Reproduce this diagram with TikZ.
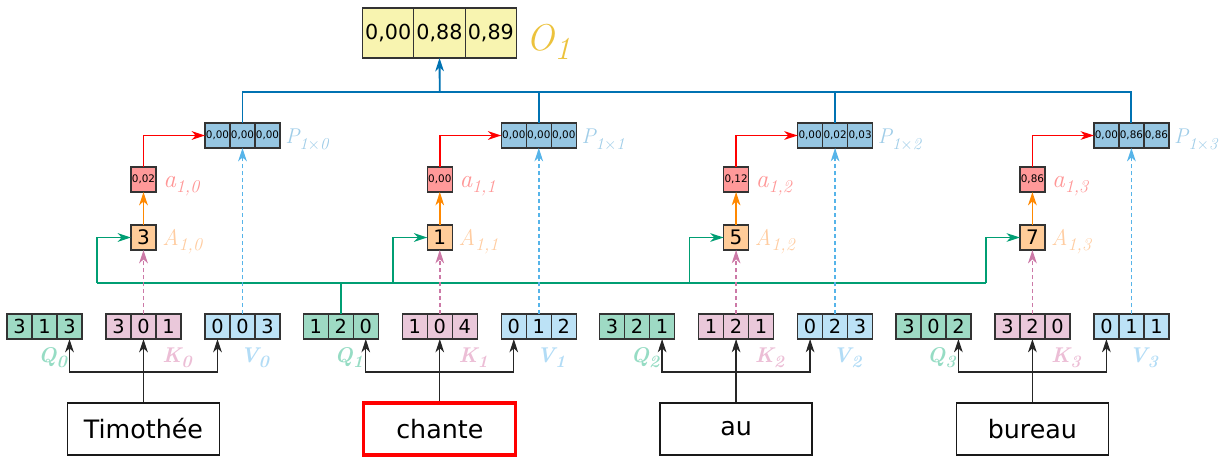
\documentclass[tikz,border=0pt]{standalone}
\usepackage{fontspec}
\setsansfont{DejaVu Sans}
\usetikzlibrary{arrows.meta}
\definecolor{qfill}{RGB}{158,218,196}
\definecolor{kfill}{RGB}{234,200,218}
\definecolor{vfill}{RGB}{188,226,246}
\definecolor{Afill}{RGB}{255,204,153}
\definecolor{afill}{RGB}{255,153,153}
\definecolor{pfill}{RGB}{150,198,226}
\definecolor{ofill}{RGB}{248,244,176}
\definecolor{qlab}{RGB}{150,220,196}
\definecolor{klab}{RGB}{236,190,214}
\definecolor{vlab}{RGB}{178,220,246}
\definecolor{Alab}{RGB}{255,204,160}
\definecolor{alab}{RGB}{255,150,150}
\definecolor{plab}{RGB}{160,205,232}
\definecolor{olab}{RGB}{236,194,60}
\definecolor{oigreen}{RGB}{0,158,115}
\definecolor{oiorange}{RGB}{255,136,0}
\definecolor{oipink}{RGB}{204,121,167}
\definecolor{oisky}{RGB}{86,180,233}
\definecolor{oiblue}{RGB}{0,114,178}
\newcommand\cellrow[6]{%
  \node[#1] (#2) at (#3) {#5};
  \node[#1, anchor=east] (#2-l) at (#2.west) {#4};
  \node[#1, anchor=west] (#2-r) at (#2.east) {#6};}
\newcommand\lab[5]{{\fontsize{#1}{#1}\selectfont #4}\raisebox{-#3}{\fontsize{#2}{#2}\selectfont #5}}
\begin{document}
\begin{tikzpicture}[x=0.75pt,y=-0.75pt,
  >={Stealth[length=10pt,width=6.5pt,inset=3pt]},
  cell/.style={draw=black!80, line width=0.9pt, inner sep=0pt, outer sep=0pt,
    minimum width=18.75pt, minimum height=18.75pt, text=black,
    font=\sffamily\fontsize{14.5}{14.5}\selectfont},
  qcell/.style={cell, fill=qfill},
  kcell/.style={cell, fill=kfill},
  vcell/.style={cell, fill=vfill},
  Acell/.style={cell, fill=Afill, font=\sffamily\fontsize{15}{15}\selectfont},
  acell/.style={cell, fill=afill, font=\sffamily\fontsize{7.8}{7.8}\selectfont},
  pcell/.style={cell, fill=pfill, font=\sffamily\fontsize{7.8}{7.8}\selectfont},
  ocell/.style={cell, fill=ofill, minimum width=38.5pt, minimum height=37.5pt,
    font=\sffamily\fontsize{15.5}{15.5}\selectfont},
  word/.style={draw=black!90, line width=1.1pt, inner sep=0pt, minimum width=114pt,
    minimum height=39pt, font=\sffamily\fontsize{19}{19}\selectfont},
  lbl/.style={inner sep=0pt, anchor=base west, font=\itshape},
  blk/.style={draw=black!85, line width=1pt},
  grn/.style={draw=oigreen, line width=1.3pt},
  orn/.style={draw=oiorange, line width=1.3pt},
  rd/.style={draw=red, line width=1.3pt},
  pkd/.style={draw=oipink, line width=1.3pt, dash pattern=on 3pt off 2.2pt},
  skd/.style={draw=oisky, line width=1.3pt, dash pattern=on 3pt off 2.2pt},
  blu/.style={draw=oiblue, line width=1.4pt}]
\useasboundingbox (0,0) rectangle (1222,457);

% output
\cellrow{ocell}{O}{439.5,33}{0,00}{0,88}{0,89}
\node[lbl, text=olab] (Olab) at (526,50) {\lab{28}{24}{7pt}{O}{1}};

% group 0
\cellrow{qcell}{Q0}{44.5,326.5}{3}{1}{3}
\cellrow{kcell}{K0}{143.5,326.5}{3}{0}{1}
\cellrow{vcell}{V0}{242.5,326.5}{0}{0}{3}
\node[Acell] (A0) at (143.5,237.5) {3};
\node[acell] (a0) at (143.5,179.5) {0,02};
\cellrow{pcell}{P0}{242.5,135.5}{0,00}{0,00}{0,00}
\node[word] (W0) at (143.5,429) {Timothée};
\node[lbl, text=qlab] (Ql0) at (38,362) {\lab{16}{13}{3.8pt}{\bfseries Q}{\bfseries 0}};
\node[lbl, text=klab] (Kl0) at (162,362) {\lab{16}{13}{3.8pt}{\bfseries K}{\bfseries 0}};
\node[lbl, text=vlab] (Vl0) at (240,362) {\lab{16}{13}{3.8pt}{\bfseries V}{\bfseries 0}};
\node[lbl, text=Alab] (Al0) at (162,245) {\lab{17}{13.5}{3.8pt}{A}{1,0}};
\node[lbl, text=alab] (al0) at (163,187) {\lab{19}{13.5}{3.8pt}{a}{1,0}};
\node[lbl, text=plab] (Pl0) at (285,143) {\lab{16}{12.5}{4.5pt}{P}{1$\times$0}};

% group 1
\cellrow{qcell}{Q1}{340.8,326.5}{1}{2}{0}
\cellrow{kcell}{K1}{439.8,326.5}{1}{0}{4}
\cellrow{vcell}{V1}{538.8,326.5}{0}{1}{2}
\node[Acell] (A1) at (439.8,237.5) {1};
\node[acell] (a1) at (439.8,179.5) {0,00};
\cellrow{pcell}{P1}{538.8,135.5}{0,00}{0,00}{0,00}
\node[word, draw=red, line width=2.3pt] (W1) at (439.8,429) {chante};
\node[lbl, text=qlab] (Ql1) at (334.3,362) {\lab{16}{13}{3.8pt}{\bfseries Q}{\bfseries 1}};
\node[lbl, text=klab] (Kl1) at (458.3,362) {\lab{16}{13}{3.8pt}{\bfseries K}{\bfseries 1}};
\node[lbl, text=vlab] (Vl1) at (536.3,362) {\lab{16}{13}{3.8pt}{\bfseries V}{\bfseries 1}};
\node[lbl, text=Alab] (Al1) at (458.3,245) {\lab{17}{13.5}{3.8pt}{A}{1,1}};
\node[lbl, text=alab] (al1) at (459.3,187) {\lab{19}{13.5}{3.8pt}{a}{1,1}};
\node[lbl, text=plab] (Pl1) at (581.3,143) {\lab{16}{12.5}{4.5pt}{P}{1$\times$1}};

% group 2
\cellrow{qcell}{Q2}{637.1,326.5}{3}{2}{1}
\cellrow{kcell}{K2}{736.1,326.5}{1}{2}{1}
\cellrow{vcell}{V2}{835.1,326.5}{0}{2}{3}
\node[Acell] (A2) at (736.1,237.5) {5};
\node[acell] (a2) at (736.1,179.5) {0,12};
\cellrow{pcell}{P2}{835.1,135.5}{0,00}{0,02}{0,03}
\node[word] (W2) at (736.1,429) {au};
\node[lbl, text=qlab] (Ql2) at (630.6,362) {\lab{16}{13}{3.8pt}{\bfseries Q}{\bfseries 2}};
\node[lbl, text=klab] (Kl2) at (754.6,362) {\lab{16}{13}{3.8pt}{\bfseries K}{\bfseries 2}};
\node[lbl, text=vlab] (Vl2) at (832.6,362) {\lab{16}{13}{3.8pt}{\bfseries V}{\bfseries 2}};
\node[lbl, text=Alab] (Al2) at (754.6,245) {\lab{17}{13.5}{3.8pt}{A}{1,2}};
\node[lbl, text=alab] (al2) at (755.6,187) {\lab{19}{13.5}{3.8pt}{a}{1,2}};
\node[lbl, text=plab] (Pl2) at (877.6,143) {\lab{16}{12.5}{4.5pt}{P}{1$\times$2}};

% group 3
\cellrow{qcell}{Q3}{933.4,326.5}{3}{0}{2}
\cellrow{kcell}{K3}{1032.4,326.5}{3}{2}{0}
\cellrow{vcell}{V3}{1131.4,326.5}{0}{1}{1}
\node[Acell] (A3) at (1032.4,237.5) {7};
\node[acell] (a3) at (1032.4,179.5) {0,86};
\cellrow{pcell}{P3}{1131.4,135.5}{0,00}{0,86}{0,86}
\node[word] (W3) at (1032.4,429) {bureau};
\node[lbl, text=qlab] (Ql3) at (926.9,362) {\lab{16}{13}{3.8pt}{\bfseries Q}{\bfseries 3}};
\node[lbl, text=klab] (Kl3) at (1050.9,362) {\lab{16}{13}{3.8pt}{\bfseries K}{\bfseries 3}};
\node[lbl, text=vlab] (Vl3) at (1128.9,362) {\lab{16}{13}{3.8pt}{\bfseries V}{\bfseries 3}};
\node[lbl, text=Alab] (Al3) at (1050.9,245) {\lab{17}{13.5}{3.8pt}{A}{1,3}};
\node[lbl, text=alab] (al3) at (1051.9,187) {\lab{19}{13.5}{3.8pt}{a}{1,3}};
\node[lbl, text=plab] (Pl3) at (1173.9,143) {\lab{16}{12.5}{4.5pt}{P}{1$\times$3}};

% junction coordinates
\coordinate (bj) at (439.8,92);
\foreach \i/\kx/\gx in {0/143.5/97, 1/439.8/393.3, 2/736.1/689.6, 3/1032.4/985.9}{
  \coordinate (j\i) at (\kx,372);
  \coordinate (g\i) at (\gx,283);
}

% blue output lines
\draw[blu] (P0.north) -- (P0.north |- bj) -- (P3.north |- bj) -- (P3.north);
\draw[blu] (P1.north) -- (P1.north |- bj);
\draw[blu] (P2.north) -- (P2.north |- bj);
\draw[blu,->] (bj) -- (O.south);

% green query line
\draw[grn] (Q1.north) -- (Q1.north |- g0);
\draw[grn] (g0) -- (g3);

\foreach \i in {0,1,2,3}{
  \draw[grn,->] (g\i) |- (A\i.west);
  \draw[orn,->] (A\i.north) -- (a\i.south);
  \draw[rd,->] (a\i.north) |- (P\i-l.west);
  \draw[pkd,->] (K\i.north) -- (A\i.south);
  \draw[skd,->] (V\i.north) -- (P\i.south);
  \draw[blk,->] (W\i.north) -- (K\i.south);
  \draw[blk,->] (j\i) -| (Q\i-r.south);
  \draw[blk,->] (j\i) -| (V\i-l.south);
}
\end{tikzpicture}
\end{document}
